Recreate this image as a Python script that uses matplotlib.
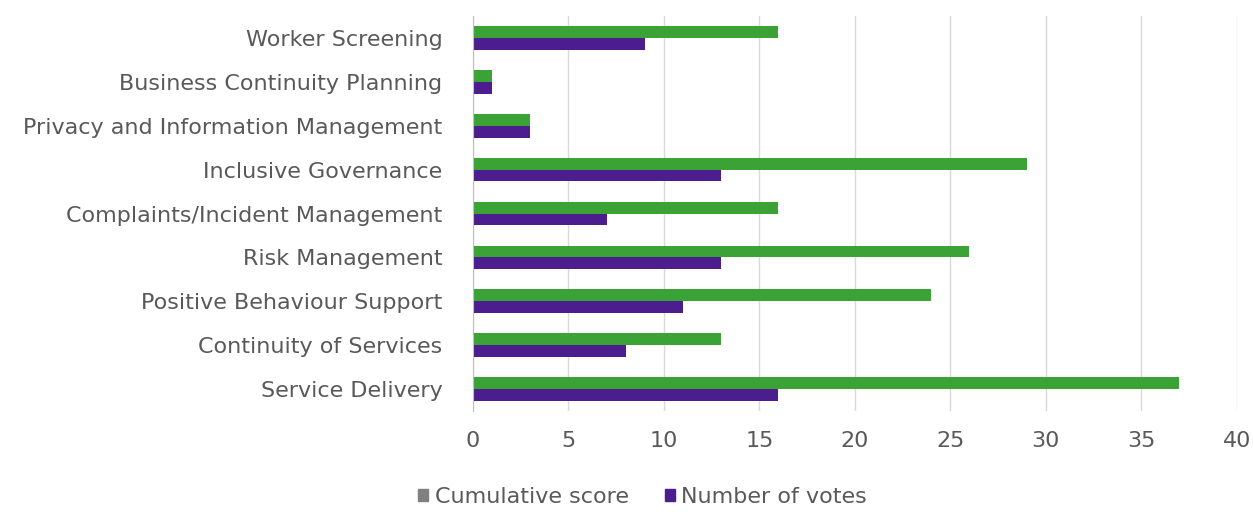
import numpy as np
import matplotlib
matplotlib.use('Agg')
import matplotlib.pyplot as plt
from matplotlib.patches import Patch

categories = [
    'Worker Screening',
    'Business Continuity Planning',
    'Privacy and Information Management',
    'Inclusive Governance',
    'Complaints/Incident Management',
    'Risk Management',
    'Positive Behaviour Support',
    'Continuity of Services',
    'Service Delivery',
]
cumulative_score = [16, 1, 3, 29, 16, 26, 24, 13, 37]
number_of_votes = [9, 1, 3, 13, 7, 13, 11, 8, 16]
x_ticks = [0, 5, 10, 15, 20, 25, 30, 35, 40]

GREEN = '#3ba335'
PURPLE = '#4b1d8e'
TEXT = '#595959'

plt.rcParams['font.family'] = ['DejaVu Sans']

fig = plt.figure(figsize=(12.53, 5.12), dpi=100)
ax = fig.add_axes([0.3775, 0.197, 0.6095, 0.772])

y = np.arange(len(categories))
h = 0.27
ax.barh(y - h / 2, cumulative_score, height=h, color=GREEN, zorder=3)
ax.barh(y + h / 2, number_of_votes, height=h, color=PURPLE, zorder=3)

ax.set_ylim(len(categories) - 0.5, -0.5)
ax.set_yticks(y)
ax.set_yticklabels(categories, fontsize=16, color=TEXT)
ax.set_xlim(0, 40)
ax.set_xticks(x_ticks)
ax.set_xticklabels([str(t) for t in x_ticks], fontsize=16, color=TEXT)
ax.tick_params(length=0)
ax.tick_params(axis='y', pad=22)
ax.tick_params(axis='x', pad=14)

ax.grid(axis='x', color='#d9d9d9', linewidth=1, zorder=0)
for s in ('top', 'right', 'bottom'):
    ax.spines[s].set_visible(False)
ax.spines['left'].set_color('#bfbfbf')
ax.spines['left'].set_zorder(4)

handles = [Patch(color='#808080', label='Cumulative score'),
           Patch(color=PURPLE, label='Number of votes')]
fig.legend(handles=handles, loc='center', bbox_to_anchor=(0.513, 0.029),
           ncol=2, frameon=False, fontsize=16, handlelength=0.45,
           handleheight=0.45, handletextpad=0.3, columnspacing=1.6,
           labelcolor=TEXT)

fig.savefig('out.png', dpi=100, facecolor='white')
